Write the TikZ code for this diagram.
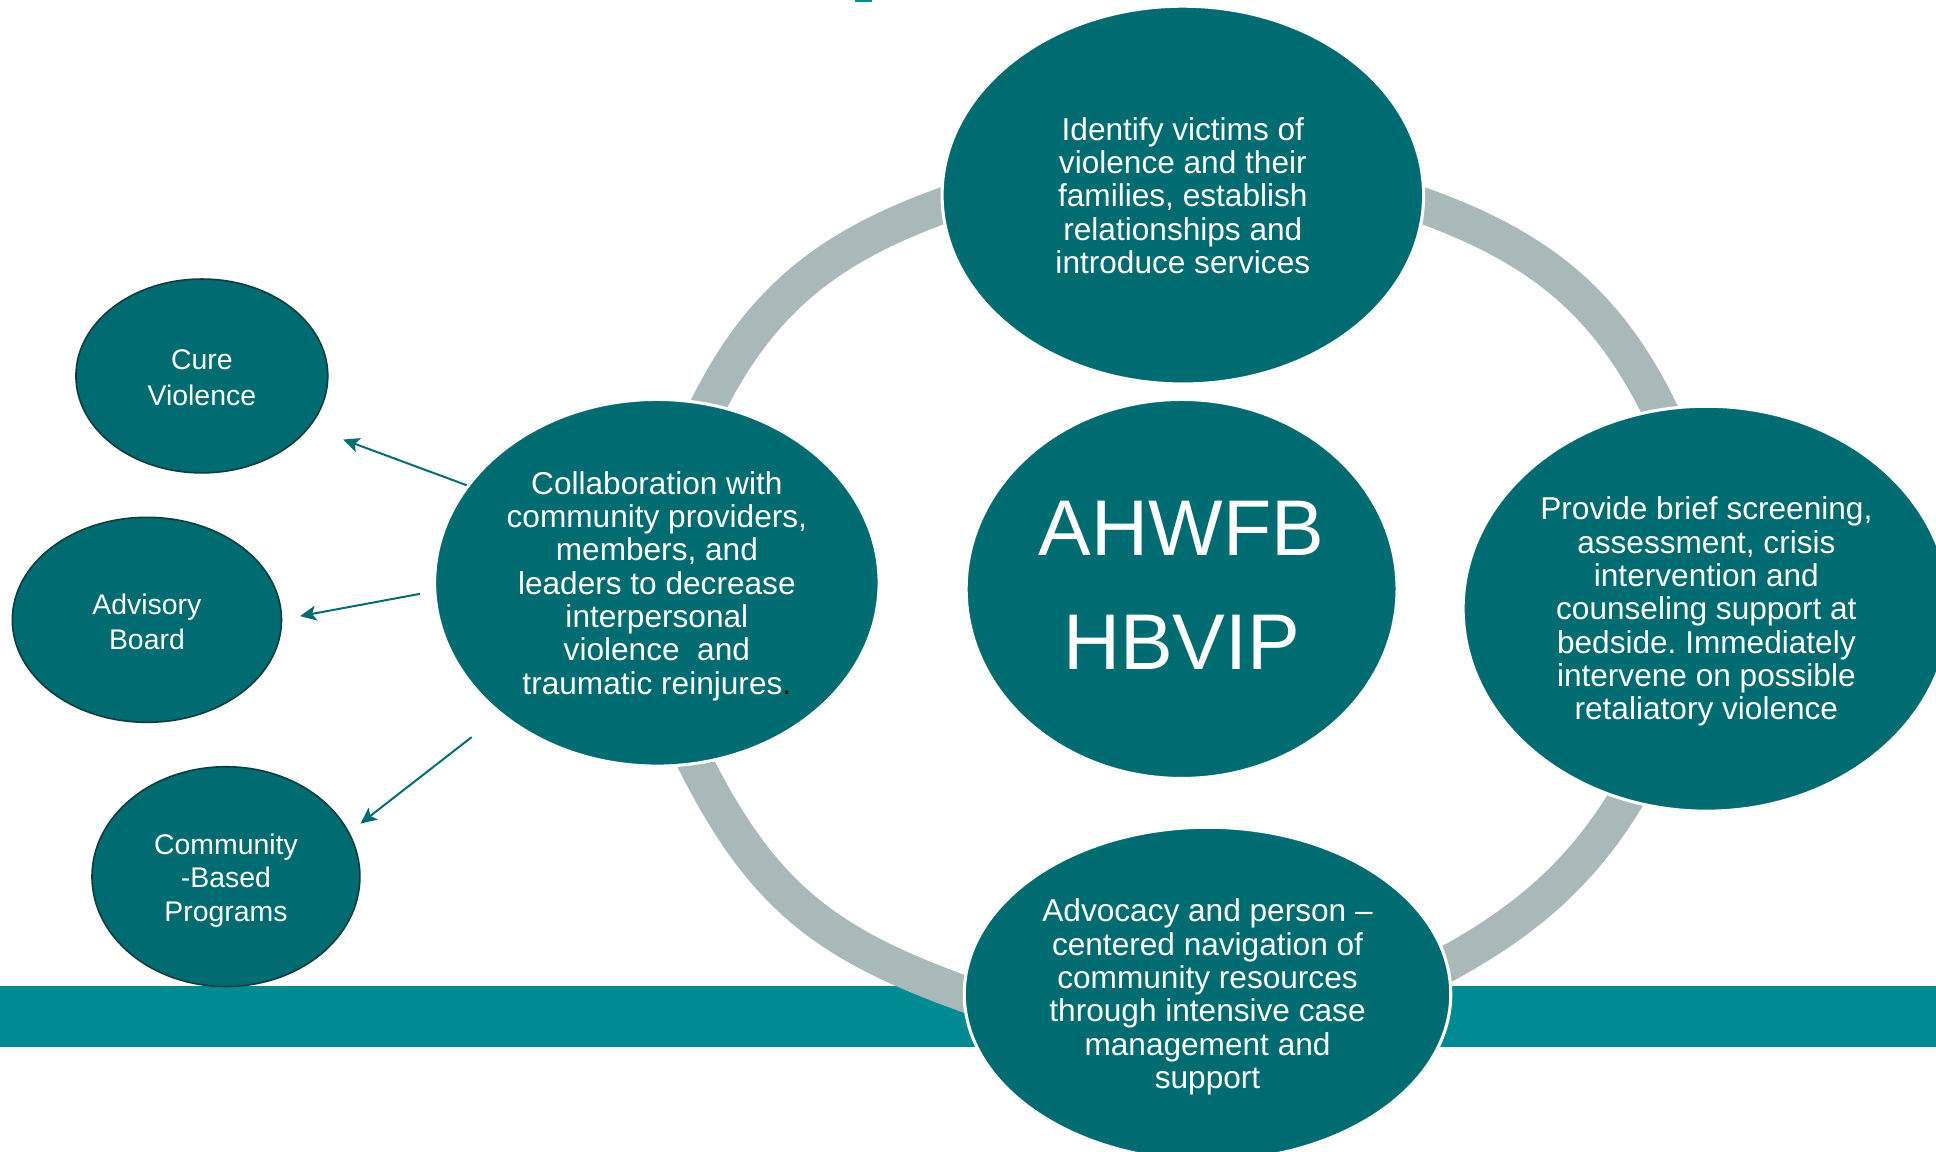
\documentclass[tikz,border=0pt]{standalone}
\usepackage{fontspec}
\setmainfont{Liberation Sans}
\frenchspacing
\usetikzlibrary{shapes.geometric,arrows.meta}
\definecolor{tealfill}{RGB}{0,108,113}
\definecolor{bandteal}{RGB}{0,139,146}
\definecolor{ringgray}{RGB}{169,185,186}
\definecolor{darkrim}{RGB}{12,62,64}
\begin{document}
\begin{tikzpicture}[x=1pt,y=-1pt,
  bigell/.style={ellipse, fill=tealfill, draw=white, line width=2.5pt, inner sep=0pt},
  smallell/.style={ellipse, fill=tealfill, draw=darkrim, line width=1.3pt, inner sep=0pt},
  bodytxt/.style={text=white, align=center, font=\fontsize{25.6}{27}\selectfont, inner sep=0pt, yshift=-2.5pt},
  smalltxt/.style={text=white, align=center, font=\fontsize{23}{28.5}\selectfont, inner sep=0pt, yshift=-1.5pt},
  ringarc/.style={draw=ringgray, line width=29pt},
  conn/.style={draw=tealfill, line width=1.6pt, -{Stealth[length=13pt,width=12pt,inset=3pt]}}
]
\fill[white] (0,0) rectangle (1568,933);
\useasboundingbox (0,0) rectangle (1568,933);
\clip (0,0) rectangle (1568,933);

% bottom band and small top mark
\fill[bandteal] (0,798.6) rectangle (1568,848);
\fill[bandteal] (692.5,0) rectangle (706,1.8);

% ring arcs
\draw[ringarc] (556.8,361.2) -- (575,325.6) .. controls (618.1,241) and (673.4,199.3) .. (762.7,166.8) -- (800.3,153.1);
\draw[ringarc] (1359.2,361.2) -- (1341,325.6) .. controls (1297.9,241) and (1242.6,199.3) .. (1153.3,166.8) -- (1115.7,153.1);
\draw[ringarc] (1336,616.6) -- (1314.8,650.6) .. controls (1277.7,710.1) and (1233.1,747.2) .. (1171.7,780.8) -- (1136.6,800);
\draw[ringarc] (546.6,585.3) -- (564.8,620.9) .. controls (619.3,727.8) and (671.6,765.2) .. (779.7,804.5) -- (817.3,818.2);

% big ellipses
\node[bigell, minimum width=390pt, minimum height=306pt] (ident) at (958,158) {};
\node[bigell, minimum width=349pt, minimum height=307pt] (hub) at (957,477) {};
\node[bigell, minimum width=360pt, minimum height=297pt] (collab) at (532,472) {};
\node[bigell, minimum width=394pt, minimum height=328pt] (prov) at (1382,493) {};
\node[bigell, minimum width=394pt, minimum height=270pt] (advo) at (978,805) {};

\node[bodytxt, yshift=2pt] (identT) at (ident) {Identify victims of\\violence and their\\families, establish\\relationships and\\introduce services};
\node[text=white, align=center, font=\fontsize{64}{93}\selectfont, inner sep=0pt] (hubT) at (957,474) {AHWFB\\HBVIP};
\node[bodytxt] (collabT) at (collab) {Collaboration with\\community providers,\\members, and\\leaders to decrease\\interpersonal\\violence\ \ and\\traumatic reinjures{\color{black}.}};
\node[bodytxt] (provT) at (prov) {Provide brief screening,\\assessment, crisis\\intervention and\\counseling support at\\bedside. Immediately\\intervene on possible\\retaliatory violence};
\node[bodytxt] (advoT) at (advo) {Advocacy and person --\\centered navigation of\\community resources\\through intensive case\\management and\\support};

% small ellipses
\node[smallell, minimum width=204pt, minimum height=157pt] (cure) at (163.5,304.5) {};
\node[smallell, minimum width=218pt, minimum height=166pt] (adv) at (119,502) {};
\node[smallell, minimum width=217pt, minimum height=178pt] (comm) at (183,710) {};
\node[smalltxt] (cureT) at (cure) {Cure\\Violence};
\node[smalltxt] (advT) at (adv) {Advisory\\Board};
\node[smalltxt, font=\fontsize{23}{27}\selectfont, yshift=-1.5pt] (commT) at (comm) {Community\\-Based\\Programs};

% connectors
\coordinate (a1s) at (378,393);
\coordinate (a1e) at (278,356);
\coordinate (a2s) at (340,481);
\coordinate (a2e) at (243,499);
\coordinate (a3s) at (382,597);
\coordinate (a3e) at (292,667);
\draw[conn] (a1s) -- (a1e);
\draw[conn] (a2s) -- (a2e);
\draw[conn] (a3s) -- (a3e);
\end{tikzpicture}
\end{document}
